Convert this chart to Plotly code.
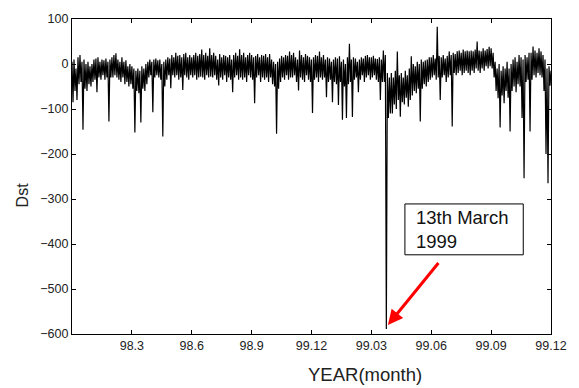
import plotly.graph_objects as go

# Dst (nT): for each ~0.1-month column, the top and the
# bottom of the dense hourly trace in that column.
dst_top = [
    5, 10, -10, 15, 20, 5, 10, 0, 5, -5,
    0, 10, 12, 15, 5, 10, 8, 12, 5, 10,
    15, 20, 24, 10, 5, 15, 5, 8, -5, 0,
    -5, -10, -15, -10, -15, -5, -10, 0, 5, 10,
    5, 10, 12, 8, 10, 0, 5, 10, 15, 12,
    20, 15, 25, 18, 20, 15, 22, 25, 15, 20,
    15, 20, 25, 18, 22, 32, 20, 25, 18, 35,
    20, 25, 18, 10, 22, 15, 20, 18, 15, 20,
    10, 20, 25, 18, 33, 20, 25, 15, 20, 25,
    20, 15, 18, 22, 15, 20, 18, 22, 15, 22,
    10, 5, 0, 5, 12, 18, 15, 20, 18, 28,
    20, 25, 15, 10, 30, 20, 15, 22, 18, 15,
    10, 15, 20, 18, 28, 15, 20, 10, 15, 12,
    5, 10, 15, 12, 17, 5, 10, 0, 15, 45,
    10, 15, 12, 5, 10, 15, 12, 18, 20, 15,
    15, 18, 12, 11, 15, 10, 30, 20, -20, -30,
    -20, -30, -15, 28, -25, -20, -30, -15, -25, -10,
    17, 0, -5, 5, 0, 10, 5, 8, 10, 15,
    15, 20, 12, 83, 18, 15, 20, 12, 18, 28,
    20, 25, 22, 28, 30, 25, 32, 28, 30, 28,
    30, 28, 32, 50, 30, 28, 35, 30, 33, 38,
    35, 25, 5, -10, 0, -15, -5, -10, 5, -10,
    0, 10, 15, 5, 20, 15, 10, 20, 15, 25,
    25, 39, 30, 25, 35, 28, 20, 10, -10, -5, -15,
]
dst_bottom = [
    -85, -60, -80, -45, -40, -146, -55, -60, -45, -50,
    -40, -35, -63, -30, -35, -25, -35, -30, -128, -30,
    -30, -25, -30, -35, -40, -30, -45, -40, -50, -45,
    -55, -152, -60, -65, -130, -55, -60, -45, -30, -25,
    -107, -30, -25, -30, -35, -161, -50, -35, -25, -54,
    -25, -30, -25, -35, -30, -58, -25, -30, -35, -25,
    -30, -25, -35, -30, -28, -30, -35, -25, -30, -28,
    -30, -25, -35, -48, -30, -35, -25, -40, -30, -35,
    -63, -30, -25, -35, -30, -35, -30, -40, -25, -30,
    -35, -87, -30, -25, -40, -30, -35, -30, -40, -30,
    -45, -50, -155, -55, -40, -30, -35, -25, -35, -30,
    -30, -25, -40, -59, -30, -35, -40, -25, -35, -40,
    -109, -35, -30, -40, -30, -35, -30, -74, -40, -35,
    -85, -40, -45, -91, -40, -124, -50, -120, -45, -40,
    -118, -35, -30, -63, -35, -25, -40, -30, -25, -35,
    -30, -25, -35, -40, -80, -40, -40, -589, -120, -110,
    -110, -90, -100, -80, -117, -85, -90, -75, -95, -80,
    -70, -60, -65, -55, -128, -55, -45, -50, -40, -35,
    -30, -25, -35, -30, -80, -30, -25, -40, -30, -25,
    -139, -20, -25, -20, -15, -25, -20, -15, -20, -25,
    -15, -20, -10, -15, -20, -10, -15, -5, -10, -5,
    -10, -30, -60, -76, -141, -70, -87, -60, -75, -150,
    -60, -50, -63, -45, -50, -120, -254, -40, -35, -150,
    -35, -25, -30, -20, -25, -30, -60, -200, -265, -48, -40,
]

n_cols = len(dst_top)
col_month = [24 * k / (n_cols - 1) for k in range(n_cols)]  # months from start (0..24)
half_step = 24 / (n_cols - 1) / 2

months, dst = [], []
for k in range(n_cols):
    months.append(col_month[k]);
    dst.append(dst_top[k])
    months.append(col_month[k] + half_step)
    dst.append(dst_bottom[k])

tick_vals = [3, 6, 9, 12, 15, 18, 21, 24]
tick_text = ["98.3", "98.6", "98.9", "99.12", "99.03", "99.06", "99.09", "99.12"]
y_ticks = [-600, -500, -400, -300, -200, -100, 0, 100]

fig = go.Figure()
fig.add_trace(go.Scatter(x=months, y=dst, mode="lines",
                         line=dict(color="black", width=1.2, simplify=False),
                         showlegend=False))

fig.update_layout(
    width=579, height=388,
    margin=dict(l=72, r=25, t=12, b=54),
    paper_bgcolor="white", plot_bgcolor="white",
    font=dict(family="Liberation Sans, Arial, sans-serif", color="#222", size=12.5),
)
fig.update_xaxes(range=[0, 24], tickvals=tick_vals, ticktext=tick_text,
                 ticks="inside", ticklen=4, tickcolor="black",
                 showline=True, linecolor="black", linewidth=1.2, mirror="ticks",
                 showgrid=False, zeroline=False)
fig.update_yaxes(range=[-600, 100], tickvals=y_ticks,
                 ticks="inside", ticklen=4, tickcolor="black",
                 showline=True, linecolor="black", linewidth=1.2, mirror="ticks",
                 showgrid=False, zeroline=False)

# axis titles
fig.add_annotation(text="YEAR(month)", xref="paper", yref="paper",
                   x=(367 - 72) / 482, y=-(375 - 334) / 322, showarrow=False,
                   font=dict(size=18.5, color="#222"), xanchor="center", yanchor="middle")
fig.add_annotation(text="Dst", xref="paper", yref="paper",
                   x=-(72 - 22) / 482, y=(334 - 192) / 322, showarrow=False, textangle=-90,
                   font=dict(size=16, color="#222"), xanchor="center", yanchor="middle")

# callout box
fig.add_shape(type="rect", xref="x", yref="y", x0=16.68, x1=22.61, y0=-424, y1=-311,
              line=dict(color="black", width=1), fillcolor="white", layer="above")
fig.add_annotation(text="13th March<br>1999", xref="x", yref="y",
                   x=17.13, y=-367, xanchor="left", yanchor="middle", align="left",
                   showarrow=False, font=dict(size=18.5, color="#111"))
# red arrow
fig.add_annotation(x=15.83, y=-580, ax=18.42, ay=-439, axref="x", ayref="y",
                   xref="x", yref="y", text="", showarrow=True,
                   arrowhead=2, arrowsize=1, arrowwidth=3, arrowcolor="#ff0000")

fig.write_html("out.html")
